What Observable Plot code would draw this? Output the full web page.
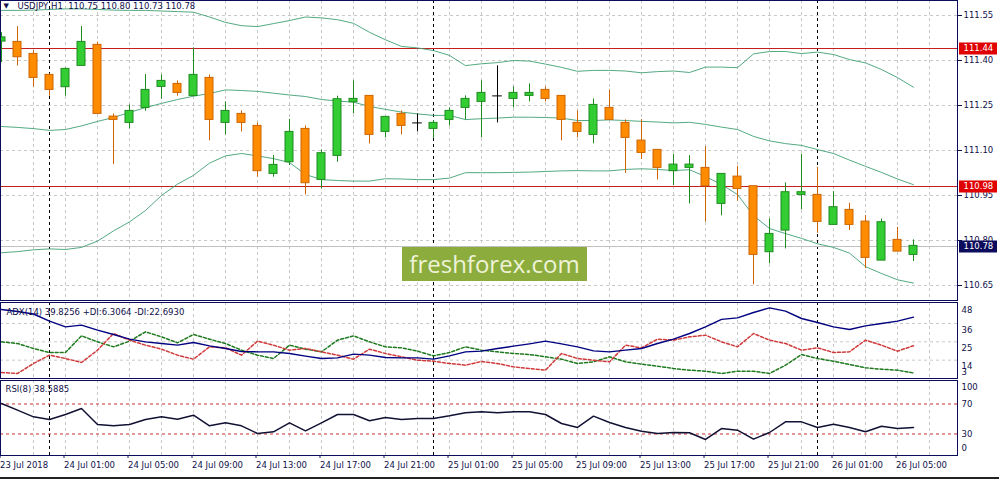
<!DOCTYPE html>
<html><head><meta charset="utf-8">
<script src="https://cdn.jsdelivr.net/npm/d3@7"></script>
<script src="https://cdn.jsdelivr.net/npm/@observablehq/plot@0.6"></script>
<style>
html,body{margin:0;padding:0;background:#fff;}
#chart{position:relative;width:999px;height:479px;overflow:hidden;background:#fff;}
#chart svg{position:absolute;left:0;}
#wm{position:absolute;left:402px;top:247px;width:185px;height:34px;background:#8cad3e;color:#eef3d8;font:24px "Open Sans",sans-serif;line-height:33px;text-align:center;}
#bottomline{position:absolute;left:0;top:477px;width:999px;height:2px;background:#222;}
</style></head><body><div id="chart"><div id="bottomline"></div></div>
<script>
// ---------- DATA ----------
const open  = [111.463,111.462,111.422,111.352,111.311,111.382,111.452,111.213,111.192,111.242,111.312,111.322,111.282,111.342,111.192,111.222,111.182,111.022,111.061,111.172,111.002,111.082,111.261,111.282,111.162,111.222,111.192,111.172,111.202,111.242,111.262,111.282,111.272,111.282,111.302,111.282,111.192,111.152,111.242,111.192,111.133,111.102,111.031,111.042,111.042,110.922,111.013,110.981,110.761,110.833,110.952,110.952,110.852,110.902,110.863,110.733,110.802,110.752];
const high  = [111.493,111.513,111.433,111.355,111.375,111.513,111.461,111.222,111.252,111.353,111.352,111.332,111.442,111.352,111.262,111.232,111.192,111.083,111.204,111.182,111.102,111.281,111.332,111.282,111.212,111.232,111.222,111.200,111.242,111.282,111.332,111.382,111.312,111.322,111.312,111.282,111.232,111.272,111.302,111.202,111.203,111.102,111.087,111.083,111.113,111.022,111.047,110.981,110.872,110.992,111.087,111.044,110.963,110.924,110.883,110.872,110.844,110.802];
const low   = [111.393,111.382,111.311,111.281,111.281,111.382,111.222,111.053,111.172,111.231,111.271,111.281,111.282,111.132,111.152,111.162,111.011,111.011,111.050,110.952,110.972,111.061,111.222,111.122,111.142,111.152,111.162,111.140,111.182,111.202,111.142,111.192,111.242,111.262,111.262,111.132,111.142,111.122,111.202,111.024,111.070,111.002,110.983,110.922,110.861,110.882,110.931,110.652,110.722,110.772,110.902,110.824,110.852,110.833,110.706,110.733,110.763,110.730];
const close = [111.477,111.411,111.342,111.302,111.372,111.462,111.222,111.202,111.232,111.302,111.332,111.292,111.352,111.202,111.232,111.192,111.031,111.052,111.162,110.991,111.091,111.271,111.272,111.152,111.212,111.182,111.192,111.192,111.232,111.272,111.292,111.282,111.292,111.292,111.272,111.202,111.162,111.252,111.202,111.142,111.092,111.042,111.053,111.053,110.981,111.022,110.972,110.752,110.822,110.961,110.961,110.862,110.911,110.852,110.742,110.861,110.763,110.782];

const bbUpper  = [111.567,111.567,111.568,111.570,111.572,111.572,111.570,111.568,111.567,111.567,111.565,111.563,111.561,111.545,111.527,111.516,111.513,111.523,111.533,111.545,111.542,111.536,111.524,111.494,111.469,111.447,111.442,111.433,111.417,111.383,111.389,111.393,111.400,111.398,111.388,111.377,111.364,111.367,111.367,111.365,111.359,111.363,111.365,111.360,111.378,111.378,111.376,111.422,111.430,111.430,111.423,111.428,111.420,111.403,111.392,111.370,111.343,111.311];
const bbMiddle = [111.180,111.177,111.173,111.167,111.170,111.182,111.197,111.210,111.227,111.243,111.257,111.270,111.281,111.290,111.302,111.300,111.297,111.291,111.285,111.280,111.270,111.265,111.261,111.247,111.237,111.228,111.222,111.217,111.217,111.203,111.206,111.208,111.211,111.211,111.210,111.208,111.200,111.200,111.202,111.200,111.197,111.195,111.192,111.194,111.187,111.178,111.170,111.147,111.132,111.123,111.117,111.103,111.090,111.068,111.047,111.027,111.005,110.986];
const bbLower  = [110.759,110.763,110.769,110.772,110.770,110.777,110.798,110.832,110.862,110.900,110.950,110.988,111.017,111.058,111.082,111.090,111.082,111.073,111.060,111.020,111.003,111.000,110.998,110.998,111.006,111.005,111.003,111.003,111.008,111.026,111.026,111.026,111.027,111.028,111.030,111.032,111.033,111.032,111.032,111.037,111.039,111.037,111.033,111.036,111.013,110.987,110.953,110.883,110.840,110.823,110.807,110.789,110.777,110.758,110.713,110.690,110.669,110.658];

const adx     = [44.4,43.2,41.7,37.4,34.0,35.0,32.0,29.4,26.6,25.0,24.0,23.0,24.6,22.6,21.0,19.2,19.0,19.0,18.0,16.4,15.0,15.4,17.6,17.0,15.6,15.4,15.4,14.6,16.6,19.0,19.4,21.0,22.4,23.8,25.4,23.8,22.0,19.6,19.0,20.0,21.0,24.0,26.6,30.0,34.0,38.5,39.4,42.6,45.4,43.4,39.0,36.6,34.0,32.4,34.6,36.0,37.4,39.8];
const plusDI  = [25.0,24.0,21.0,18.6,18.6,28.6,25.0,22.0,25.4,31.0,28.0,24.4,29.4,26.6,24.0,20.0,17.0,15.0,23.0,20.6,19.0,26.0,28.6,25.0,22.0,21.4,19.4,16.6,18.6,22.0,20.0,19.0,18.0,17.4,16.0,14.6,12.0,13.0,16.0,13.0,11.6,10.4,9.0,8.0,7.4,6.0,7.4,7.4,6.0,11.0,17.4,15.0,13.4,11.4,9.4,8.6,8.0,6.3];
const minusDI = [6.6,6.0,12.0,17.0,15.0,12.6,20.0,30.0,26.0,23.0,20.6,17.0,14.6,22.0,21.4,17.0,25.4,23.0,20.0,21.0,19.0,17.0,14.6,20.6,18.0,16.0,14.0,13.4,12.0,11.0,13.2,12.0,10.0,9.0,8.0,18.0,15.0,14.0,13.0,23.0,21.4,26.6,26.0,28.0,29.0,25.0,22.0,30.0,26.0,24.0,20.0,21.4,18.6,19.0,26.0,23.0,19.4,22.7];
const rsi     = [70.7,61.8,52.9,49.3,56.0,64.0,42.7,40.9,42.7,49.3,52.9,49.8,55.1,40.9,44.9,40.9,30.7,32.9,44.9,34.2,44.9,56.0,56.0,47.6,52.0,49.3,50.7,50.7,54.2,58.2,59.6,58.2,59.6,59.6,56.0,44.0,38.7,53.8,45.3,38.7,33.8,30.7,32.0,31.6,22.7,37.3,35.1,23.1,32.0,46.2,46.2,38.7,43.1,38.7,32.9,40.4,37.3,38.6];

const xLabels = ["23 Jul 2018","24 Jul 01:00","24 Jul 05:00","24 Jul 09:00","24 Jul 13:00","24 Jul 17:00","24 Jul 21:00","25 Jul 01:00","25 Jul 05:00","25 Jul 09:00","25 Jul 13:00","25 Jul 17:00","25 Jul 21:00","26 Jul 01:00","26 Jul 05:00"];
const priceTicks = [110.65,110.80,110.95,111.10,111.25,111.40,111.55];
const redLevels = [111.44,110.98];
const bidPrice = 110.78;
const adxTicks = [48,36,25,14];
const adxMin = 3;
const rsiLevels = [70,30];
const headerText = "USDJPY,H1\u00a0 110.75 110.80 110.73 110.78";
const adxText = "ADX(14) 39.8256 +DI:6.3064 -DI:22.6930";
const rsiText = "RSI(8) 38.5885";
const separatorBars = [3,27,51];

// ---------- BUILD ----------
const n = open.length;
const idx = d3.range(n);
const candles = idx.map(i => ({i, open: open[i], high: high[i], low: low[i], close: close[i]}));
const rows = idx.map(i => ({i, upper: bbUpper[i], middle: bbMiddle[i], lower: bbLower[i], adx: adx[i], plusDI: plusDI[i], minusDI: minusDI[i], rsi: rsi[i]}));
const XD = [-0.0625, 59.75];
const gridBars = d3.range(2, 60, 2);
const labelBars = xLabels.map((_, k) => k * 4);

const NAVY = "#0c0c5c", GRID = "#c8c8c8", BB = "#3f9f74";
const UP_F = "#32cd32", UP_S = "#1e8c1e", DN_F = "#ff8c00", DN_S = "#cd6400";
const style = {fontFamily: "DejaVu Sans", fontSize: "8.5px", color: "#10104a", background: "transparent", overflow: "visible"};
const common = {width: 999, marginLeft: 0, marginRight: 42, marginTop: 0, x: {domain: XD, axis: null}, style};
const vgrid = () => [
  Plot.ruleX(gridBars, {stroke: GRID, strokeDasharray: "3,3"}),
  Plot.ruleX(separatorBars, {stroke: "#000", strokeDasharray: "3,3"})
];
const colorOf = (d, up, dn) => d.close > d.open ? up : d.close < d.open ? dn : "#000";
const boxX1 = XD[1] + 2 / 16, boxX2 = XD[1] + 40 / 16;
const fmt2 = d3.format(".2f");

const main = Plot.plot({
  ...common, height: 301, marginBottom: 1,
  y: {domain: [110.6, 111.6], axis: null},
  color: {type: "identity"},
  marks: [
    Plot.ruleY(priceTicks, {stroke: GRID, strokeDasharray: "3,3"}),
    ...vgrid(),
    Plot.ruleY([bidPrice], {stroke: "#c0c0c0"}),
    Plot.ruleY(redLevels, {stroke: "#c41e1e"}),
    Plot.line(rows, {x: "i", y: "upper", stroke: BB, strokeWidth: 0.9}),
    Plot.line(rows, {x: "i", y: "middle", stroke: BB, strokeWidth: 0.9}),
    Plot.line(rows, {x: "i", y: "lower", stroke: BB, strokeWidth: 0.9}),
    Plot.ruleX(candles, {x: "i", y1: "low", y2: "high", stroke: d => colorOf(d, UP_S, DN_S)}),
    Plot.rect(candles.filter(d => d.open !== d.close), {x1: d => d.i - 0.25, x2: d => d.i + 0.25, y1: "open", y2: "close", fill: d => colorOf(d, UP_F, DN_F), stroke: d => colorOf(d, UP_S, DN_S)}),
    Plot.ruleY(candles.filter(d => d.open === d.close), {y: "open", x1: d => d.i - 0.3, x2: d => d.i + 0.3, stroke: "#000"}),
    Plot.frame({stroke: NAVY}),
    Plot.axisY({anchor: "right", ticks: priceTicks, tickFormat: fmt2, tickSize: 4, tickPadding: 2, label: null}),
    Plot.ruleY(redLevels, {x1: boxX1, x2: boxX2, stroke: "#e00000", strokeWidth: 12}),
    Plot.ruleY([bidPrice], {x1: boxX1, x2: boxX2, stroke: NAVY, strokeWidth: 12}),
    Plot.text([...redLevels, bidPrice], {y: d => d, text: d => fmt2(d), frameAnchor: "right", dx: 6, textAnchor: "start", fill: "white"}),
    Plot.text(["\u25BC"], {frameAnchor: "top-left", dx: 3, dy: 3, lineAnchor: "top", fontSize: 7, fill: "#10104a"}),
    Plot.text([headerText], {text: d => d, frameAnchor: "top-left", dx: 17, dy: 2, lineAnchor: "top", textAnchor: "start", fill: "#10104a"})
  ]
});
main.style.top = "0px";

const adxPlot = Plot.plot({
  ...common, height: 77, marginBottom: 1,
  y: {domain: [3, 48.6], axis: null},
  marks: [
    Plot.ruleY(adxTicks.slice(1), {stroke: GRID, strokeDasharray: "3,3"}),
    ...vgrid(),
    Plot.line(rows, {x: "i", y: "plusDI", stroke: "#1f7a1f", strokeDasharray: "3,2"}),
    Plot.line(rows, {x: "i", y: "minusDI", stroke: "#d03a3a", strokeDasharray: "3,2"}),
    Plot.line(rows, {x: "i", y: "adx", stroke: "#000080", strokeWidth: 1.4}),
    Plot.frame({stroke: NAVY}),
    Plot.text(adxTicks, {y: d => d, text: d => String(d), frameAnchor: "right", dx: 4, dy: 6.5, textAnchor: "start"}),
    Plot.text([adxMin], {y: d => d, text: d => String(d), frameAnchor: "right", dx: 4, dy: -6, textAnchor: "start"}),
    Plot.text([adxText], {text: d => d, frameAnchor: "top-left", dx: 6, dy: 6, lineAnchor: "top", textAnchor: "start"})
  ]
});
adxPlot.style.top = "302px";

const rsiPlot = Plot.plot({
  ...common, height: 99, marginBottom: 24,
  y: {domain: [1.333, 101.333], axis: null},
  marks: [
    ...vgrid(),
    Plot.ruleY(rsiLevels, {stroke: "#c83232", strokeDasharray: "3,3"}),
    Plot.line(rows, {x: "i", y: "rsi", stroke: "#111133"}),
    Plot.frame({stroke: NAVY}),
    Plot.text(rsiLevels, {y: d => d, text: d => String(d), frameAnchor: "right", dx: 4, textAnchor: "start"}),
    Plot.text([100], {y: d => d, text: d => String(d), frameAnchor: "right", dx: 4, dy: 6, textAnchor: "start"}),
    Plot.text([0], {y: d => d, text: d => String(d), frameAnchor: "right", dx: 4, dy: -8, textAnchor: "start"}),
    Plot.text([rsiText], {text: d => d, frameAnchor: "top-left", dx: 5, dy: 5.5, lineAnchor: "top", textAnchor: "start"}),
    Plot.axisX({anchor: "bottom", ticks: labelBars, tickFormat: d => xLabels[Math.round(d / 4)], tickSize: 3, tickPadding: 3, textAnchor: "start", dx: -1.5, label: null})
  ]
});
rsiPlot.style.top = "380px";

const chart = document.getElementById("chart");
chart.appendChild(main);
chart.appendChild(adxPlot);
chart.appendChild(rsiPlot);
const wm = document.createElement("div");
wm.id = "wm";
wm.textContent = "freshforex.com";
chart.appendChild(wm);
</script></body></html>
